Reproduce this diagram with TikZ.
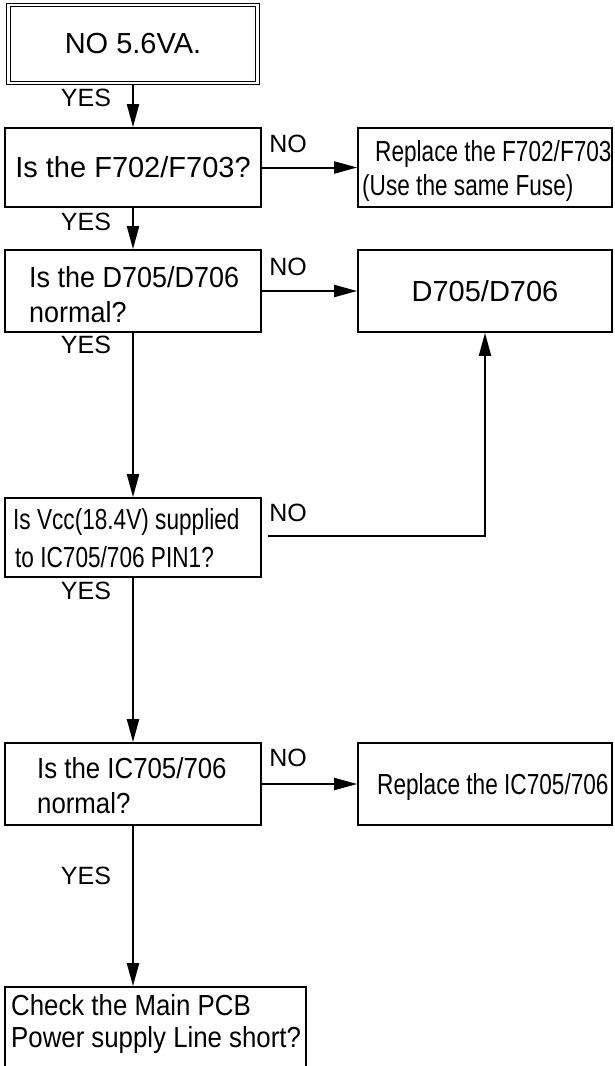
\documentclass[tikz,border=0pt]{standalone}
\usepackage{fontspec}
\setmainfont{Liberation Sans}
\newfontfamily\condA[FakeStretch=0.78]{Liberation Sans}
\newfontfamily\condB[FakeStretch=0.89]{Liberation Sans}
\newfontfamily\condC[FakeStretch=0.93]{Liberation Sans}
\usetikzlibrary{arrows.meta}
\begin{document}
\begin{tikzpicture}[x=1pt,y=-1pt,
  box/.style={draw,line width=1.7pt,inner sep=0pt},
  conn/.style={line width=2pt,-{Triangle[length=23pt,width=12pt]}},
  lbl/.style={font=\fontsize{25}{29}\selectfont,inner sep=0pt},
  txt/.style={font=\fontsize{29}{34}\selectfont,inner sep=0pt,anchor=west},
  atxt/.style={font=\fontsize{29}{34}\condA,inner sep=0pt,anchor=west},
  btxt/.style={font=\fontsize{29}{34}\condB,inner sep=0pt,anchor=west},
  ctxt/.style={font=\fontsize{29}{34}\condC,inner sep=0pt,anchor=west}
]
\useasboundingbox (0,0) rectangle (615,1066);
% boxes
\node[draw,double,double distance=2.5pt,line width=1.2pt,minimum width=249pt,minimum height=78pt,
      font=\fontsize{29}{34}\selectfont] (b1) at (133,44) {NO 5.6VA.};
\node[box,minimum width=256pt,minimum height=79pt,font=\fontsize{29}{34}\selectfont] (b2) at (133,167.5) {Is the F702/F703?};
\node[box,minimum width=254pt,minimum height=79pt] (r1) at (485,167.5) {};
\node[box,minimum width=256pt,minimum height=82pt] (b3) at (133,291) {};
\node[box,minimum width=254pt,minimum height=82pt,font=\fontsize{29}{34}\selectfont] (r2) at (485,291) {D705/D706};
\node[box,minimum width=256pt,minimum height=79pt] (b4) at (133,537.5) {};
\node[box,minimum width=256pt,minimum height=82pt] (b5) at (133,784) {};
\node[box,minimum width=254pt,minimum height=82pt] (r3) at (485,784) {};
\node[box,minimum width=301pt,minimum height=110pt] (b6) at (155.5,1042) {};
% texts
\node[atxt] (t1a) at (375,154) {Replace the F702/F703};
\node[atxt] (t1b) at (362,188) {(Use the same Fuse)};
\node[ctxt] (t3a) at (29,277) {Is the D705/D706};
\node[ctxt] (t3b) at (29,312) {normal?};
\node[atxt] (t4a) at (13,522) {Is Vcc(18.4V) supplied};
\node[atxt] (t4b) at (15,557) {to IC705/706 PIN1?};
\node[btxt] (t5a) at (37,768) {Is the IC705/706};
\node[btxt] (t5b) at (37,803) {normal?};
\node[atxt] (t6a) at (377,787) {Replace the IC705/706};
\node[btxt] (t7a) at (11,1005) {Check the Main PCB};
\node[btxt] (t7b) at (11,1040) {Power supply Line short?};
% labels
\node[lbl] (y1) at (86,98) {YES};
\node[lbl] (y2) at (86,222) {YES};
\node[lbl] (y3) at (86,345) {YES};
\node[lbl] (y4) at (86,591) {YES};
\node[lbl] (y5) at (86,876) {YES};
\node[lbl] (n1) at (288,144) {NO};
\node[lbl] (n2) at (288,267) {NO};
\node[lbl] (n3) at (288,513) {NO};
\node[lbl] (n4) at (288,758) {NO};
% connectors
\draw[conn] (b1) -- (b2);
\draw[conn] (b2) -- (r1);
\draw[conn] (b2) -- (b3);
\draw[conn] (b3) -- (r2);
\draw[conn] (b3) -- (b4);
\coordinate (s4) at ([xshift=6pt,yshift=2pt]b4.east);
\draw[conn] (s4) -- (s4 -| r2) -- (r2);
\draw[conn] (b4) -- (b5);
\draw[conn] (b5) -- (r3);
\draw[conn] (b5.south -| b4) -- (b6.north -| b4);
\end{tikzpicture}
\end{document}
